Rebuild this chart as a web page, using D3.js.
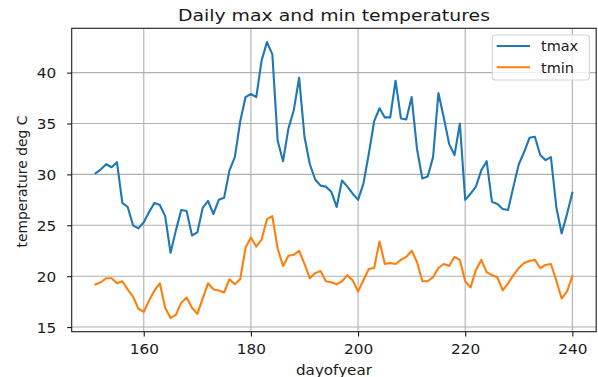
<!DOCTYPE html>
<html>
<head>
<meta charset="utf-8">
<script src="https://cdn.jsdelivr.net/npm/d3@7"></script>
<style>
  html, body { margin: 0; padding: 0; background: #fff; }
  svg { display: block; }
  text { font-family: "DejaVu Sans", sans-serif; fill: #1a1a1a; }
</style>
</head>
<body>
<svg id="chart" width="598" height="377"></svg>
<script>
// Day of year, one reading per day
const firstDay = 151;
const lastDay = 240;

// Daily maximum temperature (deg C), days 151..240
const tmax = [
  30.1, 30.5, 31.0, 30.7, 31.2, 27.2, 26.8, 25.0, 24.7, 25.3,
  26.3, 27.2, 27.0, 25.9, 22.3, 24.5, 26.5, 26.4, 24.0, 24.3,
  26.7, 27.4, 26.1, 27.5, 27.7, 30.4, 31.7, 35.2, 37.6, 37.9,
  37.6, 41.2, 43.0, 41.8, 33.3, 31.3, 34.5, 36.3, 39.5, 33.7,
  31.0, 29.5, 28.9, 28.8, 28.3, 26.8, 29.4, 28.8, 28.1, 27.5,
  29.1, 32.0, 35.2, 36.5, 35.6, 35.6, 39.2, 35.5, 35.4, 37.6,
  32.5, 29.6, 29.8, 31.7, 38.0, 35.6, 33.0, 31.9, 35.0, 27.5,
  28.1, 28.8, 30.4, 31.3, 27.3, 27.1, 26.6, 26.5, 28.8, 31.0,
  32.2, 33.6, 33.7, 31.9, 31.4, 31.7, 26.8, 24.2, 26.1, 28.2
];

// Daily minimum temperature (deg C), days 151..240
const tmin = [
  19.2, 19.4, 19.8, 19.8, 19.3, 19.5, 18.7, 18.0, 16.8, 16.5,
  17.6, 18.6, 19.3, 16.9, 15.9, 16.2, 17.4, 17.9, 16.9, 16.3,
  17.8, 19.3, 18.7, 18.6, 18.4, 19.7, 19.2, 19.7, 22.8, 23.8,
  22.9, 23.6, 25.6, 25.9, 22.7, 21.0, 22.0, 22.1, 22.5, 21.2,
  19.8, 20.3, 20.5, 19.5, 19.4, 19.2, 19.5, 20.1, 19.6, 18.5,
  19.6, 20.7, 20.8, 23.4, 21.2, 21.3, 21.2, 21.6, 21.9, 22.5,
  21.4, 19.5, 19.5, 19.9, 20.8, 21.2, 21.0, 21.9, 21.6, 19.5,
  18.9, 20.6, 21.6, 20.4, 20.1, 19.9, 18.6, 19.3, 20.1, 20.8,
  21.3, 21.5, 21.6, 20.8, 21.1, 21.2, 19.6, 17.8, 18.5, 20.0
];

const xTicks = [160, 180, 200, 220, 240];
const yTicks = [15, 20, 25, 30, 35, 40];
const seriesNames = ["tmax", "tmin"];
const seriesColors = ["#1f77b4", "#ff7f0e"];

const titleText = "Daily max and min temperatures";
const xLabel = "dayofyear";
const yLabel = "temperature deg C";

const days = d3.range(firstDay, lastDay + 1);
const series = [tmax, tmin].map((vals, i) => ({
  name: seriesNames[i],
  color: seriesColors[i],
  points: vals.map((v, j) => ({ day: days[j], value: v }))
}));

// Plot area
const plot = { left: 71.7, right: 596.2, top: 28.3, bottom: 331.7 };

// Domains padded by 5% on each side
function padded(extent) {
  const m = (extent[1] - extent[0]) * 0.05;
  return [extent[0] - m, extent[1] + m];
}
const x = d3.scaleLinear()
  .domain(padded([firstDay, lastDay]))
  .range([plot.left, plot.right]);
const y = d3.scaleLinear()
  .domain(padded(d3.extent(tmax.concat(tmin))))
  .range([plot.bottom, plot.top]);

const svg = d3.select("#chart");
const gridColor = "#b0b0b0";
const inkColor = "#1a1a1a";

// Grid
const grid = svg.append("g");
grid.selectAll("line.vx").data(xTicks).join("line")
  .attr("x1", d => x(d)).attr("x2", d => x(d))
  .attr("y1", plot.top).attr("y2", plot.bottom)
  .attr("stroke", gridColor).attr("stroke-width", 1.1);
grid.selectAll("line.hy").data(yTicks).join("line")
  .attr("x1", plot.left).attr("x2", plot.right)
  .attr("y1", d => y(d)).attr("y2", d => y(d))
  .attr("stroke", gridColor).attr("stroke-width", 1.1);

// Series lines
const line = d3.line().x(d => x(d.day)).y(d => y(d.value));
svg.append("g").selectAll("path").data(series).join("path")
  .attr("d", d => line(d.points))
  .attr("fill", "none")
  .attr("stroke", d => d.color)
  .attr("stroke-width", 2.1)
  .attr("stroke-linejoin", "round")
  .attr("stroke-linecap", "square");

// Axes
const xAxis = svg.append("g")
  .attr("transform", `translate(0,${plot.bottom})`)
  .call(d3.axisBottom(x).tickValues(xTicks).tickFormat(d3.format("d"))
    .tickSize(4.9).tickPadding(0));
xAxis.select(".domain").remove();
xAxis.selectAll(".tick line").attr("stroke", inkColor).attr("stroke-width", 1.1);
xAxis.selectAll(".tick text")
  .attr("y", 0).attr("dy", null)
  .attr("transform", "translate(0,22.4) scale(1.1,1)")
  .style("font-size", "13.9px").attr("fill", inkColor);

const yAxis = svg.append("g")
  .attr("transform", `translate(${plot.left},0)`)
  .call(d3.axisLeft(y).tickValues(yTicks).tickFormat(d3.format("d"))
    .tickSize(4.6).tickPadding(0));
yAxis.select(".domain").remove();
yAxis.selectAll(".tick line").attr("stroke", inkColor).attr("stroke-width", 1.1);
yAxis.selectAll(".tick text")
  .attr("x", 0).attr("dy", "0.36em")
  .attr("transform", "translate(-15.5,0) scale(1.1,1)")
  .style("font-size", "13.9px").attr("fill", inkColor);

// Frame
svg.append("rect")
  .attr("x", plot.left).attr("y", plot.top)
  .attr("width", plot.right - plot.left).attr("height", plot.bottom - plot.top)
  .attr("fill", "none").attr("stroke", inkColor).attr("stroke-width", 1.1);

// Title and axis labels
const midX = (plot.left + plot.right) / 2;
svg.append("text")
  .attr("transform", `translate(${midX},20.6) scale(1.13,1)`)
  .attr("text-anchor", "middle")
  .style("font-size", "16.7px")
  .text(titleText);
svg.append("text")
  .attr("transform", `translate(${midX},374.5) scale(1.09,1)`)
  .attr("text-anchor", "middle")
  .style("font-size", "13.9px")
  .text(xLabel);
svg.append("text")
  .attr("transform", `translate(27,${(plot.top + plot.bottom) / 2 + 1.5}) rotate(-90)`)
  .attr("text-anchor", "middle")
  .style("font-size", "13.9px")
  .text(yLabel);

// Legend
const legend = svg.append("g");
legend.append("rect")
  .attr("x", 492.3).attr("y", 35).attr("width", 97).attr("height", 45)
  .attr("rx", 3).attr("ry", 3)
  .attr("fill", "#fff").attr("fill-opacity", 0.8)
  .attr("stroke", "#d6d6d6").attr("stroke-width", 1.1);
const rowY = d3.scalePoint().domain(seriesNames).range([46, 67.3]);
const item = legend.selectAll("g.item").data(series).join("g")
  .attr("transform", d => `translate(0,${rowY(d.name)})`);
item.append("line")
  .attr("x1", 496.7).attr("x2", 530)
  .attr("stroke", d => d.color).attr("stroke-width", 2.1);
item.append("text")
  .attr("transform", "translate(541,5.2) scale(1.04,1)")
  .style("font-size", "13.9px")
  .text(d => d.name);
</script>
</body>
</html>
